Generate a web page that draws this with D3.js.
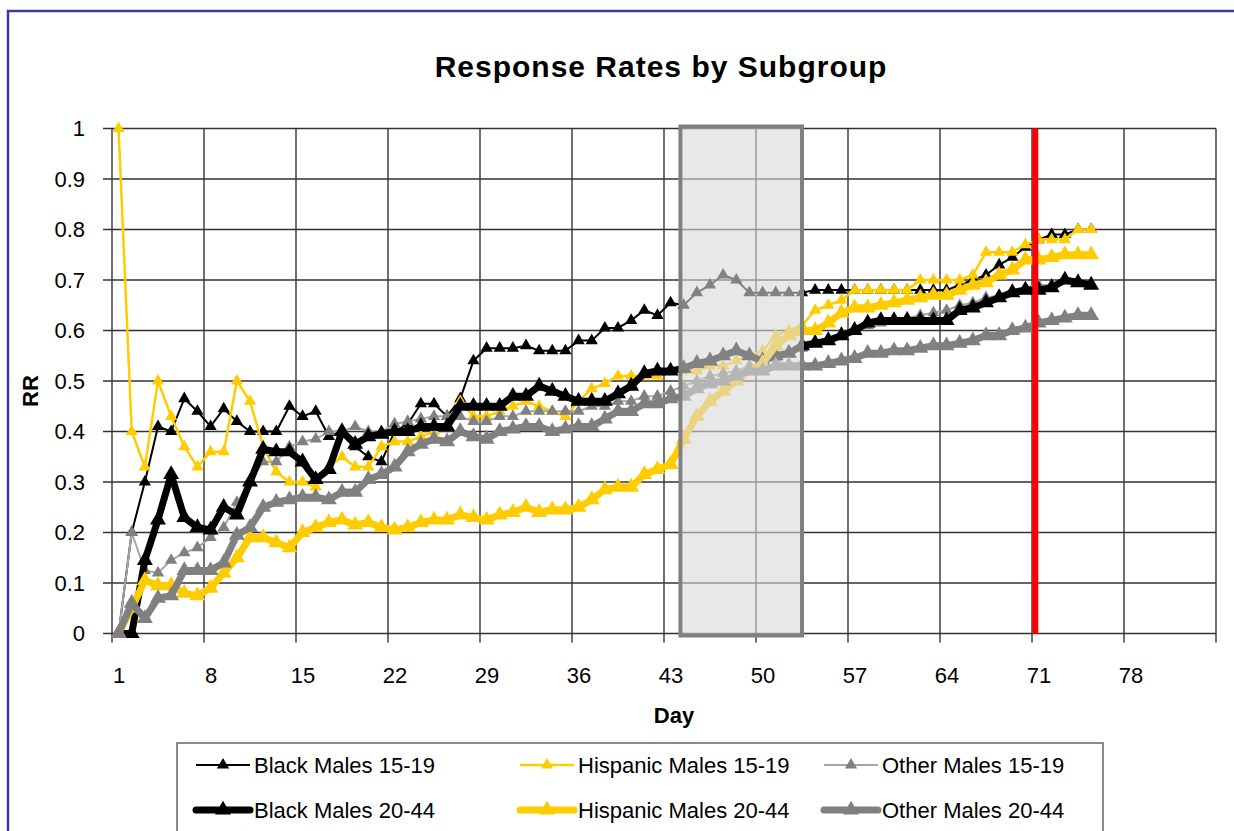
<!DOCTYPE html>
<html>
<head>
<meta charset="utf-8">
<script src="https://cdn.jsdelivr.net/npm/d3@7"></script>
<style>
  body { margin: 0; background: #fff; }
  text { font-family: "Liberation Sans", Arial, sans-serif; fill: #000; }
</style>
</head>
<body>
<div id="chart"></div>
<script>
const days = [1,2,3,4,5,6,7,8,9,10,11,12,13,14,15,16,17,18,19,20,21,22,23,24,25,
  26,27,28,29,30,31,32,33,34,35,36,37,38,39,40,41,42,43,44,45,46,47,48,49,50,
  51,52,53,54,55,56,57,58,59,60,61,62,63,64,65,66,67,68,69,70,71,72,73,74,75];

const blackMales1519 = [0,0.2,0.3,0.41,0.4,0.465,0.44,0.41,0.445,0.42,0.4,0.4,0.4,0.45,0.43,
  0.44,0.39,0.4,0.37,0.35,0.34,0.4,0.415,0.455,0.455,0.43,0.465,0.54,0.565,0.565,
  0.565,0.57,0.56,0.56,0.56,0.58,0.58,0.605,0.605,0.62,0.64,0.63,0.655,0.65,0.675,
  0.69,0.71,0.7,0.675,0.675,0.675,0.675,0.675,0.68,0.68,0.68,0.68,0.68,0.68,0.68,
  0.68,0.68,0.68,0.68,0.69,0.7,0.71,0.73,0.745,0.765,0.78,0.79,0.79,0.8,0.8];

const hispanicMales1519 = [1,0.4,0.33,0.5,0.43,0.37,0.33,0.36,0.36,0.5,0.46,0.37,0.32,0.3,0.3,
  0.29,0.33,0.35,0.33,0.33,0.37,0.38,0.38,0.39,0.4,0.41,0.46,0.43,0.43,0.44,
  0.45,0.46,0.45,0.44,0.43,0.46,0.485,0.495,0.51,0.51,0.51,0.51,0.52,0.52,0.52,
  0.53,0.53,0.54,0.55,0.56,0.59,0.6,0.61,0.64,0.65,0.66,0.68,0.68,0.68,0.68,
  0.68,0.7,0.7,0.7,0.7,0.71,0.755,0.755,0.755,0.77,0.78,0.78,0.78,0.8,0.8];

const otherMales1519 = [0,0.2,0.125,0.12,0.145,0.16,0.17,0.19,0.21,0.26,0.3,0.34,0.34,0.37,0.38,
  0.385,0.4,0.4,0.41,0.4,0.4,0.415,0.42,0.425,0.43,0.43,0.43,0.42,0.42,0.43,
  0.43,0.44,0.44,0.44,0.44,0.44,0.45,0.45,0.46,0.46,0.47,0.47,0.48,0.49,0.5,
  0.51,0.515,0.52,0.53,0.535,0.545,0.555,0.565,0.575,0.585,0.595,0.605,0.61,0.615,0.62,
  0.625,0.63,0.635,0.64,0.65,0.655,0.665,0.67,0.68,0.685,0.69,0.69,0.7,0.695,0.69];

const blackMales2044 = [0,0,0.145,0.225,0.315,0.23,0.21,0.205,0.25,0.235,0.3,0.365,0.36,0.36,0.34,
  0.305,0.325,0.4,0.375,0.39,0.395,0.4,0.4,0.41,0.41,0.41,0.45,0.45,0.45,0.45,
  0.47,0.47,0.49,0.48,0.47,0.46,0.46,0.46,0.475,0.49,0.515,0.52,0.52,0.525,0.535,
  0.54,0.55,0.56,0.55,0.54,0.55,0.555,0.57,0.575,0.58,0.59,0.6,0.615,0.62,0.62,
  0.62,0.62,0.62,0.62,0.64,0.645,0.655,0.665,0.675,0.68,0.68,0.685,0.7,0.695,0.69];

const hispanicMales2044 = [0,0.05,0.105,0.095,0.095,0.08,0.075,0.09,0.12,0.15,0.19,0.19,0.18,0.17,0.2,
  0.21,0.22,0.225,0.215,0.22,0.21,0.205,0.21,0.22,0.225,0.225,0.235,0.23,0.225,0.235,
  0.24,0.25,0.24,0.245,0.245,0.25,0.265,0.285,0.29,0.29,0.315,0.325,0.335,0.385,0.43,
  0.46,0.48,0.5,0.52,0.535,0.57,0.59,0.6,0.6,0.615,0.635,0.645,0.645,0.65,0.655,
  0.66,0.665,0.67,0.67,0.68,0.69,0.695,0.71,0.72,0.74,0.74,0.745,0.75,0.75,0.75];

const otherMales2044 = [0,0.06,0.03,0.07,0.075,0.125,0.125,0.125,0.14,0.195,0.21,0.25,0.26,0.265,0.27,
  0.27,0.265,0.28,0.28,0.305,0.315,0.33,0.36,0.375,0.385,0.38,0.4,0.39,0.385,0.4,
  0.405,0.41,0.41,0.4,0.405,0.41,0.41,0.425,0.44,0.44,0.455,0.455,0.465,0.47,0.485,
  0.495,0.5,0.51,0.52,0.52,0.53,0.53,0.53,0.53,0.535,0.54,0.545,0.555,0.555,0.56,
  0.56,0.565,0.57,0.57,0.575,0.58,0.59,0.59,0.6,0.605,0.615,0.62,0.625,0.63,0.63];

const seriesNames = ["Black Males 15-19", "Hispanic Males 15-19", "Other Males 15-19",
  "Black Males 20-44", "Hispanic Males 20-44", "Other Males 20-44"];
const xTickDays = [1,8,15,22,29,36,43,50,57,64,71,78];
const yTicks = [0,0.1,0.2,0.3,0.4,0.5,0.6,0.7,0.8,0.9,1];
const shadedDays = [43.75, 53];
const cutoffDay = 70.75;

const width = 1234, height = 831;
const plot = { left: 112, right: 1216, top: 128.5, bottom: 633.5 };

const series = [
  { name: seriesNames[0], values: blackMales1519, line: "#000000", marker: "#000000", w: 2, size: 65 },
  { name: seriesNames[1], values: hispanicMales1519, line: "#FFCC00", marker: "#FFCC00", w: 2.5, size: 65 },
  { name: seriesNames[2], values: otherMales1519, line: "#A6A6A6", marker: "#808080", w: 2, size: 65 },
  { name: seriesNames[3], values: blackMales2044, line: "#000000", marker: "#000000", w: 7, size: 110 },
  { name: seriesNames[4], values: hispanicMales2044, line: "#FFCC00", marker: "#FFCC00", w: 7, size: 110 },
  { name: seriesNames[5], values: otherMales2044, line: "#808080", marker: "#808080", w: 7, size: 110 }
];

const svg = d3.select("#chart").append("svg")
  .attr("width", width)
  .attr("height", height);

// outer chart border (runs off the right and bottom of the picture)
svg.append("rect")
  .attr("x", 8).attr("y", 11)
  .attr("width", 1300).attr("height", 900)
  .attr("fill", "#fff")
  .attr("stroke", "#3b3ba6")
  .attr("stroke-width", 2.5);

const x = d3.scaleLinear().domain([0.5, 84.5]).range([plot.left, plot.right]);
const y = d3.scaleLinear().domain([0, 1]).range([plot.bottom, plot.top]);

// grid: category boundaries every 7 days
const gridDays = d3.range(0.5, 85, 7);
const grid = svg.append("g").attr("class", "grid");
grid.selectAll("line.v").data(gridDays).enter().append("line")
  .attr("class", "v")
  .attr("x1", d => x(d)).attr("x2", d => x(d))
  .attr("y1", plot.top).attr("y2", plot.bottom + 9)
  .attr("stroke", "#333").attr("stroke-width", 1.4);
grid.selectAll("line.h").data(yTicks).enter().append("line")
  .attr("class", "h")
  .attr("x1", plot.left - 9).attr("x2", plot.right)
  .attr("y1", d => y(d)).attr("y2", d => y(d))
  .attr("stroke", "#333").attr("stroke-width", 1.4);

// y axis labels
const yAxis = svg.append("g")
  .attr("transform", "translate(" + plot.left + ",0)")
  .call(d3.axisLeft(y).tickValues(yTicks).tickSize(0).tickPadding(27)
    .tickFormat(d => d3.format("")(+d.toFixed(1))));
yAxis.select(".domain").remove();
yAxis.selectAll("text").style("font-size", "22px").attr("fill", "#000");

// x axis labels, centred on their day
const xAxis = svg.append("g")
  .attr("transform", "translate(0," + plot.bottom + ")")
  .call(d3.axisBottom(x).tickValues(xTickDays).tickSize(0).tickPadding(34));
xAxis.select(".domain").remove();
xAxis.selectAll("text").style("font-size", "22px").attr("fill", "#000");

// series
const line = d3.line()
  .defined(v => v != null)
  .x((v, i) => x(days[i]))
  .y(v => y(v));

const seriesG = svg.append("g").attr("class", "series");
series.forEach(s => {
  const g = seriesG.append("g");
  g.append("path")
    .attr("d", line(s.values))
    .attr("fill", "none")
    .attr("stroke", s.line)
    .attr("stroke-width", s.w)
    .attr("stroke-linejoin", "round");
  g.selectAll("path.pt").data(s.values).enter().append("path")
    .attr("class", "pt")
    .attr("transform", (v, i) => "translate(" + x(days[i]) + "," + y(v) + ")")
    .attr("d", d3.symbol().type(d3.symbolTriangle).size(s.size))
    .attr("fill", s.marker);
});

// shaded window
svg.append("rect")
  .attr("x", x(shadedDays[0]))
  .attr("y", plot.top - 2)
  .attr("width", x(shadedDays[1]) - x(shadedDays[0]))
  .attr("height", plot.bottom - plot.top + 4)
  .attr("fill", "#d9d9d9")
  .attr("fill-opacity", 0.6)
  .attr("stroke", "#808080")
  .attr("stroke-width", 4);

// cutoff line
svg.append("line")
  .attr("x1", x(cutoffDay)).attr("x2", x(cutoffDay))
  .attr("y1", plot.top).attr("y2", plot.bottom)
  .attr("stroke", "#ff0000")
  .attr("stroke-width", 6);

// titles
svg.append("text")
  .attr("x", 661).attr("y", 77)
  .attr("text-anchor", "middle")
  .style("font-size", "30px").style("font-weight", "bold")
  .style("letter-spacing", "1px")
  .text("Response Rates by Subgroup");

svg.append("text")
  .attr("transform", "translate(38,391) rotate(-90)")
  .attr("text-anchor", "middle")
  .style("font-size", "22px").style("font-weight", "bold")
  .text("RR");

svg.append("text")
  .attr("x", 674).attr("y", 723)
  .attr("text-anchor", "middle")
  .style("font-size", "22px").style("font-weight", "bold")
  .text("Day");

// legend
const legend = svg.append("g").attr("class", "legend");
legend.append("rect")
  .attr("x", 177).attr("y", 743)
  .attr("width", 926).attr("height", 120)
  .attr("fill", "#fff")
  .attr("stroke", "#666")
  .attr("stroke-width", 1.5);

const colX = [196, 520, 824];
const rowY = [765, 810];
series.forEach((s, i) => {
  const lx = colX[i % 3], ly = rowY[Math.floor(i / 3)];
  const item = legend.append("g").attr("transform", "translate(" + lx + "," + ly + ")");
  item.append("line")
    .attr("x1", 0).attr("x2", 54)
    .attr("stroke", s.line)
    .attr("stroke-width", s.w)
    .attr("stroke-linecap", s.w > 3 ? "round" : "butt");
  item.append("path")
    .attr("transform", "translate(27,0)")
    .attr("d", d3.symbol().type(d3.symbolTriangle).size(s.size))
    .attr("fill", s.marker);
  item.append("text")
    .attr("x", 58).attr("dy", "0.35em")
    .style("font-size", "22px")
    .text(s.name);
});
</script>
</body>
</html>
